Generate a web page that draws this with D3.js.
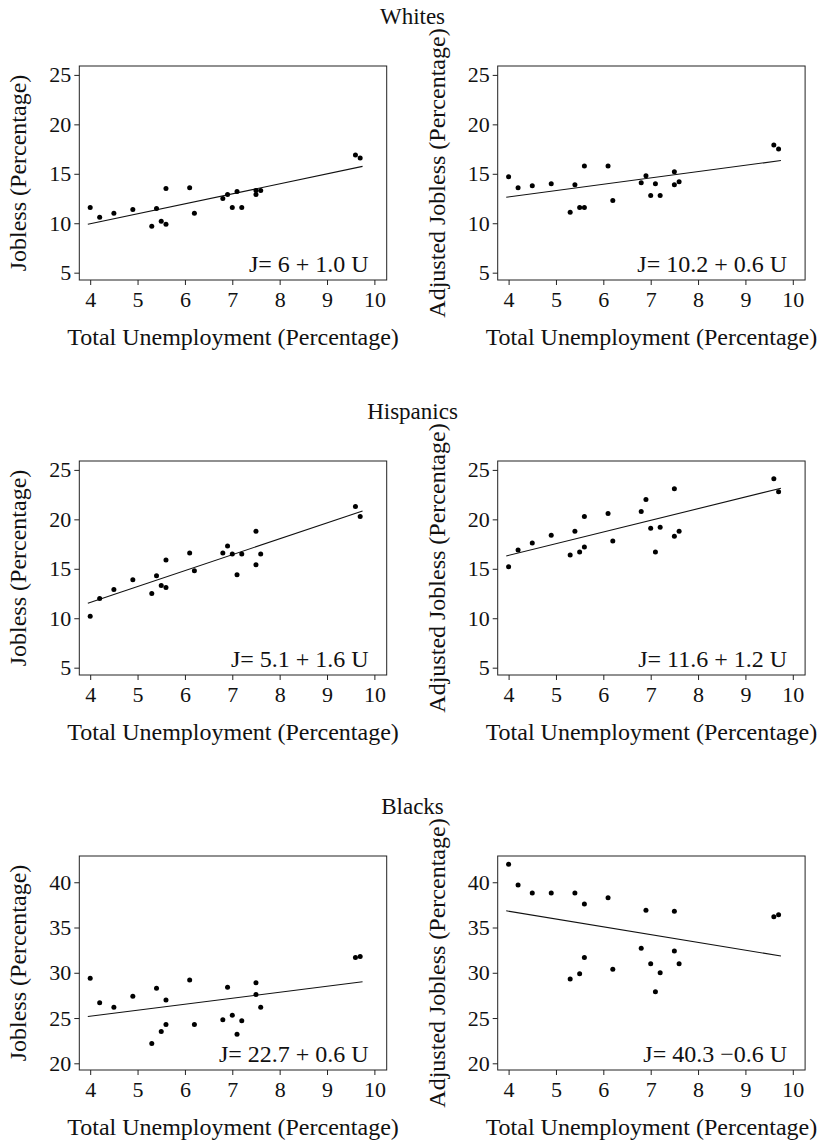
<!DOCTYPE html>
<html>
<head>
<meta charset="utf-8">
<script src="https://cdn.jsdelivr.net/npm/d3@7"></script>
<style>
  body { margin: 0; background: white; }
  svg text { font-family: "Liberation Serif", "Times New Roman", serif !important; fill: #111; }
  .axis path { display: none; }
  .axis line { stroke: #222; }
  .frame { fill: none; stroke: #222; stroke-width: 1; }
</style>
</head>
<body>
<div id="chart"></div>
<script>
// unemployment (x) shared by every panel
const unemployment = [4.0, 4.2, 4.5, 4.9, 5.3, 5.4, 5.5, 5.6, 5.6, 6.1, 6.2, 6.8, 6.9, 7.0, 7.1, 7.2, 7.5, 7.5, 7.6, 9.6, 9.7];

const whitesJobless = [11.6, 10.6, 11.0, 11.4, 9.7, 11.5, 10.2, 13.5, 9.9, 13.6, 11.0, 12.5, 12.9, 11.6, 13.2, 11.6, 12.9, 13.3, 13.3, 16.9, 16.6];
const whitesAdjusted = [14.7, 13.6, 13.8, 14.0, 11.1, 13.9, 11.6, 15.8, 11.6, 15.8, 12.3, 14.1, 14.8, 12.8, 14.0, 12.8, 15.2, 13.9, 14.2, 17.9, 17.5];
const hispanicsJobless = [10.2, 12.0, 12.9, 13.9, 12.5, 14.3, 13.3, 15.9, 13.1, 16.6, 14.8, 16.6, 17.3, 16.5, 14.4, 16.5, 18.8, 15.4, 16.5, 21.3, 20.3];
const hispanicsAdjusted = [15.2, 16.9, 17.6, 18.4, 16.4, 18.8, 16.7, 20.3, 17.2, 20.6, 17.8, 20.8, 22.0, 19.1, 16.7, 19.2, 23.1, 18.3, 18.8, 24.1, 22.8];
const blacksJobless = [29.4, 26.7, 26.2, 27.4, 22.2, 28.3, 23.5, 27.0, 24.3, 29.2, 24.3, 24.8, 28.4, 25.3, 23.2, 24.7, 28.9, 27.6, 26.2, 31.7, 31.8];
const blacksAdjusted = [42.0, 39.7, 38.8, 38.8, 29.3, 38.8, 29.9, 37.6, 31.7, 38.3, 30.4, 32.7, 36.9, 31.0, 27.9, 30.0, 32.4, 36.8, 31.0, 36.2, 36.4];

const groupTitles = ["Whites", "Hispanics", "Blacks"];
const yTitles = ["Jobless (Percentage)", "Adjusted Jobless (Percentage)"];
const xTitle = "Total Unemployment (Percentage)";

// fitted lines as drawn (intercept, slope) and their printed labels
const lineIntercepts = [5.9, 10.1, 5.15, 11.64, 22.57, 40.24];
const lineSlopes = [1.01, 0.64, 1.61, 1.18, 0.66, -0.86];
const lineRange = [3.95, 9.75];
const equationLabels = ["J= 6 + 1.0 U", "J= 10.2 + 0.6 U", "J= 5.1 + 1.6 U", "J= 11.6 + 1.2 U", "J= 22.7 + 0.6 U", "J= 40.3 \u22120.6 U"];

const xTicks = [4, 5, 6, 7, 8, 9, 10];
const yTicksSmall = [5, 10, 15, 20, 25];
const yTicksLarge = [20, 25, 30, 35, 40];

const panelSeries = [whitesJobless, whitesAdjusted, hispanicsJobless, hispanicsAdjusted, blacksJobless, blacksAdjusted];

const svg = d3.select("#chart").append("svg").attr("width", 825).attr("height", 1145);

class ScatterPanel {
  constructor(g, values, idx) {
    this.g = g;
    this.values = values;
    this.idx = idx;
    this.initVis();
  }

  initVis() {
    let vis = this;
    let row = Math.floor(vis.idx / 2);
    let col = vis.idx % 2;

    vis.width = 307.4;
    vis.height = 214;
    vis.left = col === 0 ? 79.3 : 497.7;
    vis.top = 66 + row * 395;

    vis.svg = vis.g.append("g").attr("transform", `translate(${vis.left}, ${vis.top})`);

    vis.x = d3.scaleLinear().domain([3.77, 10.26]).range([0, vis.width]);
    vis.y = d3.scaleLinear()
      .domain(row === 2 ? [19.26, 42.9] : [4.26, 25.9])
      .range([vis.height, 0]);

    vis.xAxis = d3.axisBottom(vis.x).tickValues(xTicks).tickFormat(d3.format("d")).tickSize(5).tickPadding(6);
    vis.yAxis = d3.axisLeft(vis.y).tickValues(row === 2 ? yTicksLarge : yTicksSmall)
      .tickFormat(d3.format("d")).tickSize(5).tickPadding(3);

    vis.svg.append("g").attr("class", "x-axis axis")
      .attr("transform", `translate(0, ${vis.height})`)
      .call(vis.xAxis)
      .attr("font-family", null)
      .selectAll("text").style("font-size", "22px").attr("fill", "#111");
    vis.svg.append("g").attr("class", "y-axis axis")
      .call(vis.yAxis)
      .attr("font-family", null)
      .selectAll("text").style("font-size", "22px").attr("fill", "#111");

    vis.svg.append("rect").attr("class", "frame")
      .attr("width", vis.width).attr("height", vis.height);

    // axis titles
    vis.svg.append("text")
      .attr("x", vis.width / 2)
      .attr("y", vis.height + 65)
      .attr("text-anchor", "middle")
      .style("font-size", "24px")
      .text(xTitle);
    vis.svg.append("text")
      .attr("transform", `translate(-53, ${vis.height / 2}) rotate(-90)`)
      .attr("text-anchor", "middle")
      .style("font-size", "24px")
      .text(yTitles[col]);

    vis.updateVis();
  }

  updateVis() {
    let vis = this;
    let a = lineIntercepts[vis.idx];
    let b = lineSlopes[vis.idx];

    vis.svg.append("line")
      .attr("x1", vis.x(lineRange[0])).attr("y1", vis.y(a + b * lineRange[0]))
      .attr("x2", vis.x(lineRange[1])).attr("y2", vis.y(a + b * lineRange[1]))
      .attr("stroke", "#111").attr("stroke-width", 1.1);

    vis.svg.selectAll(".dot")
      .data(vis.values.map((v, i) => ({ u: unemployment[i], j: v })))
      .enter().append("circle")
      .attr("class", "dot")
      .attr("cx", (d) => vis.x(d.u))
      .attr("cy", (d) => vis.y(d.j))
      .attr("r", 2.5)
      .attr("fill", "#000");

    vis.svg.append("text")
      .attr("x", vis.width - 18)
      .attr("y", vis.height - 8)
      .attr("text-anchor", "end")
      .style("font-size", "24px")
      .text(equationLabels[vis.idx]);
  }
}

groupTitles.forEach((t, r) => {
  svg.append("text")
    .attr("x", 412.5)
    .attr("y", 24 + r * 395)
    .attr("text-anchor", "middle")
    .style("font-size", "23px")
    .text(t);
});

panelSeries.forEach((values, i) => new ScatterPanel(svg, values, i));
</script>
</body>
</html>
